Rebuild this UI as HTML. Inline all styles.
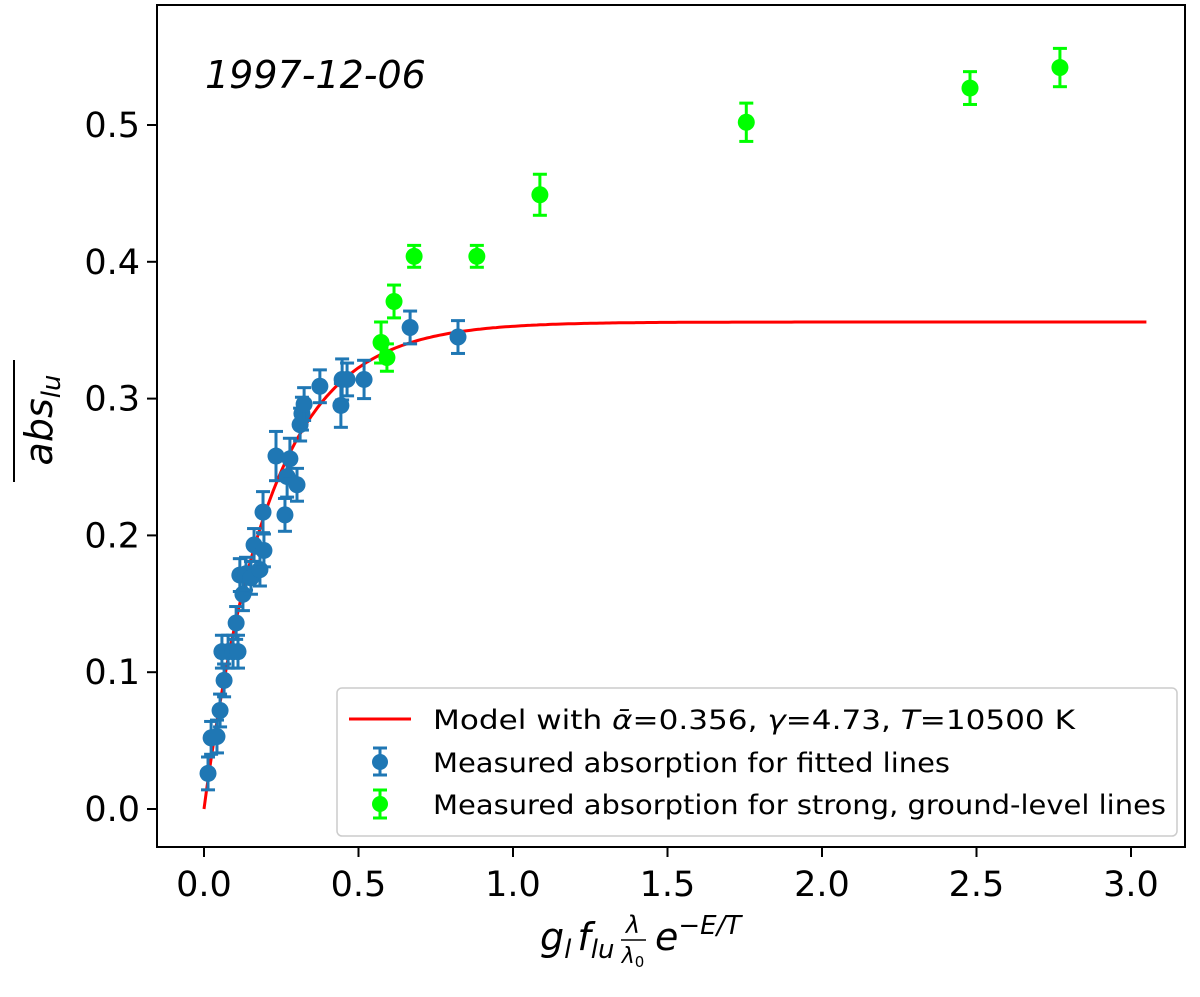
<!DOCTYPE html>
<html><head><meta charset="utf-8"><style>
body{margin:0;background:#fff;}
svg{font-family:"DejaVu Sans","Liberation Sans",sans-serif;}
</style></head><body>
<svg id="chart" width="1200" height="992" xmlns="http://www.w3.org/2000/svg">
<rect x="157" y="5" width="1028" height="842" fill="none" stroke="#000" stroke-width="2"/>
<text x="205" y="88" font-size="38" font-style="italic">1997-12-06</text>
<g id="axes"></g>
<path id="model" fill="none" stroke="#ff0000" stroke-width="3"/>
<g id="pts"></g>
<g transform="translate(52,420) rotate(-90)">
<line x1="-62" y1="-38" x2="60" y2="-38" stroke="#000" stroke-width="2"/>
<text x="0" y="0" text-anchor="middle" font-size="38" font-style="italic">abs<tspan font-size="26" dy="8">lu</tspan></text>
</g>
<g font-style="italic">
<text x="540" y="950" font-size="38">g<tspan font-size="26" dy="8">l</tspan><tspan dy="-8" dx="6">f</tspan><tspan font-size="26" dy="8">lu</tspan></text>
<text x="633" y="933" font-size="24" text-anchor="middle">λ</text>
<line x1="621" y1="940" x2="646" y2="940" stroke="#000" stroke-width="1.5"/>
<text x="633" y="963" font-size="22" text-anchor="middle">λ<tspan font-size="15" dy="4" font-style="normal">0</tspan></text>
<text x="655" y="950" font-size="38">e<tspan font-size="26" dy="-16">−E/T</tspan></text>
</g>
<g>
<rect x="337" y="688" width="840" height="148" rx="5" fill="#fff" fill-opacity="0.85" stroke="#ccc" stroke-width="1.5"/>
<line x1="349" y1="719" x2="411" y2="719" stroke="#ff0000" stroke-width="3"/>
<text x="433" y="729" font-size="27" textLength="642" lengthAdjust="spacingAndGlyphs">Model with <tspan font-style="italic">ᾱ</tspan>=0.356,   <tspan font-style="italic">γ</tspan>=4.73,   <tspan font-style="italic">T</tspan>=10500  K</text>
<line x1="380" y1="748" x2="380" y2="775" stroke="#1f77b4" stroke-width="3"/><line x1="373" y1="748" x2="387" y2="748" stroke="#1f77b4" stroke-width="3"/><line x1="373" y1="775" x2="387" y2="775" stroke="#1f77b4" stroke-width="3"/><circle cx="380" cy="762" r="8" fill="#1f77b4"/>
<text x="433" y="772" font-size="27" textLength="517" lengthAdjust="spacingAndGlyphs">Measured absorption for fitted lines</text>
<line x1="380" y1="790" x2="380" y2="818" stroke="#00ff00" stroke-width="3"/><line x1="373" y1="790" x2="387" y2="790" stroke="#00ff00" stroke-width="3"/><line x1="373" y1="818" x2="387" y2="818" stroke="#00ff00" stroke-width="3"/><circle cx="380" cy="804" r="8" fill="#00ff00"/>
<text x="433" y="814" font-size="27" textLength="733" lengthAdjust="spacingAndGlyphs">Measured absorption for strong, ground-level lines</text>
</g>
</svg>
<script>
const xTicks=[0,0.5,1.0,1.5,2.0,2.5,3.0];
const yTicks=[0,0.1,0.2,0.3,0.4,0.5];
const blueX=[0.013,0.023,0.042,0.052,0.065,0.058,0.078,0.094,0.104,0.11,0.116,0.126,0.136,0.152,0.162,0.181,0.194,0.191,0.233,0.262,0.269,0.278,0.301,0.311,0.317,0.324,0.375,0.443,0.447,0.463,0.518,0.667,0.822];
const blueY=[0.026,0.052,0.053,0.072,0.094,0.115,0.115,0.115,0.136,0.115,0.171,0.157,0.172,0.169,0.193,0.175,0.189,0.217,0.258,0.215,0.243,0.256,0.237,0.281,0.289,0.296,0.309,0.295,0.314,0.314,0.314,0.352,0.345];
const blueErr=[0.012,0.012,0.012,0.012,0.012,0.012,0.012,0.012,0.012,0.012,0.012,0.012,0.012,0.012,0.012,0.012,0.012,0.015,0.018,0.012,0.015,0.015,0.012,0.012,0.012,0.012,0.012,0.016,0.015,0.012,0.014,0.012,0.012];
const greenX=[0.573,0.592,0.615,0.68,0.883,1.087,1.755,2.479,2.77];
const greenY=[0.341,0.33,0.371,0.404,0.404,0.449,0.502,0.527,0.542];
const greenErr=[0.015,0.01,0.012,0.008,0.008,0.015,0.014,0.012,0.014];
const alpha=0.356, gamma=4.73;
const X=v=>204+v*309, Y=v=>809-v*1368;
const NS='http://www.w3.org/2000/svg';
function mk(t,a,p){const e=document.createElementNS(NS,t);for(const k in a)e.setAttribute(k,a[k]);p.appendChild(e);return e;}
const ax=document.getElementById('axes');
xTicks.forEach(v=>{
 const g=mk('g',{},ax);
 
 
 mk('line',{x1:X(v),x2:X(v),y1:847,y2:857,stroke:'#000','stroke-width':2},g);
 const t=mk('text',{x:X(v),y:896,'font-size':35,'text-anchor':'middle'},g);t.textContent=v.toFixed(1);
});
yTicks.forEach(v=>{
 const g=mk('g',{},ax);
 
 
 mk('line',{x1:147,x2:157,y1:Y(v),y2:Y(v),stroke:'#000','stroke-width':2},g);
 const t=mk('text',{x:140,y:Y(v)+12,'font-size':35,'text-anchor':'end'},g);t.textContent=v.toFixed(1);
});
let d='';for(let i=0;i<=300;i++){const x=3.05*i/300;d+=(i?'L':'M')+X(x).toFixed(1)+','+Y(alpha*(1-Math.exp(-gamma*x))).toFixed(1);}
document.getElementById('model').setAttribute('d',d);
const pg=document.getElementById('pts');
function pts(xs,ys,es,col,name){xs.forEach((x,i)=>{
 const g=mk('g',{stroke:col,'stroke-width':3},pg);
 
 
 const cx=X(x),y1=Y(ys[i]+es[i]),y2=Y(ys[i]-es[i]);
 mk('line',{x1:cx,x2:cx,y1:y1,y2:y2},g);
 mk('line',{x1:cx-7,x2:cx+7,y1:y1,y2:y1},g);
 mk('line',{x1:cx-7,x2:cx+7,y1:y2,y2:y2},g);
 mk('circle',{cx:cx,cy:Y(ys[i]),r:8.5,fill:col,stroke:'none'},g);
});}
pts(blueX,blueY,blueErr,'#1f77b4','fitted-line-point');
pts(greenX,greenY,greenErr,'#00ff00','strong-line-point');
</script>
</body></html>
